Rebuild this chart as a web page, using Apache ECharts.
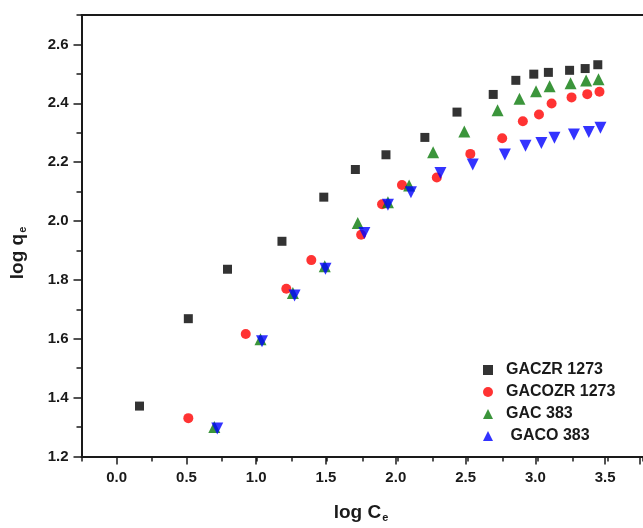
<!DOCTYPE html>
<html>
<head>
<meta charset="utf-8">
<script src="https://cdn.jsdelivr.net/npm/echarts@6/dist/echarts.min.js"></script>
<style>html,body{margin:0;padding:0;background:#fff;}#c{width:643px;height:528px;}</style>
</head>
<body>
<div id="c"></div>
<script>
const seriesNames = ['GACZR 1273', 'GACOZR 1273', 'GAC 383', ' GACO 383'];

const gaczrX = [0.163, 0.511, 0.790, 1.178, 1.476, 1.701, 1.919, 2.196, 2.425, 2.683, 2.844, 2.972, 3.076, 3.227, 3.338, 3.428];
const gaczrY = [1.371, 1.668, 1.836, 1.931, 2.081, 2.175, 2.225, 2.284, 2.370, 2.430, 2.478, 2.499, 2.505, 2.512, 2.518, 2.531];

const gacozrX = [0.511, 0.920, 1.209, 1.387, 1.742, 1.891, 2.033, 2.281, 2.520, 2.747, 2.894, 3.009, 3.099, 3.241, 3.353, 3.440];
const gacozrY = [1.330, 1.616, 1.770, 1.867, 1.953, 2.057, 2.122, 2.148, 2.228, 2.281, 2.339, 2.362, 2.399, 2.420, 2.431, 2.439];

const gacX = [0.696, 1.025, 1.256, 1.483, 1.718, 1.933, 2.084, 2.255, 2.477, 2.714, 2.870, 2.988, 3.085, 3.234, 3.345, 3.433];
const gacY = [1.300, 1.598, 1.755, 1.846, 1.993, 2.064, 2.121, 2.234, 2.304, 2.376, 2.415, 2.441, 2.458, 2.468, 2.477, 2.482];

const gacoX = [0.717, 1.036, 1.268, 1.488, 1.765, 1.933, 2.097, 2.307, 2.537, 2.766, 2.913, 3.026, 3.119, 3.258, 3.364, 3.447];
const gacoY = [1.295, 1.591, 1.747, 1.838, 1.959, 2.055, 2.098, 2.163, 2.192, 2.226, 2.256, 2.265, 2.283, 2.294, 2.302, 2.317];

const xTitle = 'log C';
const yTitle = 'log q';
const subscript = 'e';

const pairs = (xs, ys) => xs.map((x, i) => [x, ys[i]]);
const FONT = '"Liberation Sans", Arial, sans-serif';
const INK = '#1a1a1a';

const chart = echarts.init(document.getElementById('c'), null, {renderer: 'canvas'});
chart.setOption({
  animation: false,
  backgroundColor: '#fff',
  grid: [
    {left: 81.5, top: 15, width: 563.6, height: 441.4},
    {left: 116.7, top: 44.4, width: 528.4, height: 412}
  ],
  xAxis: [
    {type: 'value', gridIndex: 0, min: -0.25, max: 3.75, interval: 0.25,
     axisLine: {show: true, onZero: false, lineStyle: {color: INK, width: 2}},
     axisTick: {show: true, length: 5, lineStyle: {color: INK, width: 1.5}},
     axisLabel: {show: false}, splitLine: {show: false}},
    {type: 'value', gridIndex: 1, min: 0, max: 3.75, interval: 0.5,
     axisLine: {show: false, onZero: false},
     axisTick: {show: true, length: 8, lineStyle: {color: INK, width: 1.5}},
     axisLabel: {show: true, margin: 14, fontFamily: FONT, fontWeight: 'bold', fontSize: 15, color: INK,
       formatter: v => (Math.abs(v * 2 - Math.round(v * 2)) < 1e-6 && v <= 3.5) ? v.toFixed(1) : ''},
     splitLine: {show: false}},
    {type: 'value', gridIndex: 0, position: 'top', min: -0.25, max: 3.75, interval: 0.25,
     axisLine: {show: true, onZero: false, lineStyle: {color: INK, width: 2}},
     axisTick: {show: false}, axisLabel: {show: false}, splitLine: {show: false}}
  ],
  yAxis: [
    {type: 'value', gridIndex: 0, min: 1.2, max: 2.7, interval: 0.1,
     axisLine: {show: true, onZero: false, lineStyle: {color: INK, width: 2}},
     axisTick: {show: true, length: 5, lineStyle: {color: INK, width: 1.5}},
     axisLabel: {show: false}, splitLine: {show: false}},
    {type: 'value', gridIndex: 1, min: 1.2, max: 2.6, interval: 0.2, offset: 35.2,
     axisLine: {show: false, onZero: false},
     axisTick: {show: true, length: 8, lineStyle: {color: INK, width: 1.5}},
     axisLabel: {show: true, margin: 13, fontFamily: FONT, fontWeight: 'bold', fontSize: 15, color: INK,
       formatter: v => v.toFixed(1)},
     splitLine: {show: false}}
  ],
  legend: {
    orient: 'vertical', left: 478, top: 357, itemWidth: 10, itemHeight: 10, itemGap: 6,
    data: seriesNames,
    textStyle: {fontFamily: FONT, fontWeight: 'bold', fontSize: 16, color: INK, padding: [0, 0, 0, 8]}
  },
  graphic: [
    {type: 'text', x: 361, y: 513, style: {text: '{m|' + xTitle + '}{s|' + subscript + '}', align: 'center', verticalAlign: 'middle',
      rich: {m: {fontFamily: FONT, fontWeight: 'bold', fontSize: 19, fill: INK, color: INK},
             s: {fontFamily: FONT, fontWeight: 'bold', fontSize: 11, fill: INK, color: INK, padding: [10, 0, 0, 1]}}}},
    {type: 'text', x: 18, y: 253, rotation: Math.PI / 2, style: {text: '{m|' + yTitle + '}{s|' + subscript + '}', align: 'center', verticalAlign: 'middle',
      rich: {m: {fontFamily: FONT, fontWeight: 'bold', fontSize: 19, fill: INK, color: INK},
             s: {fontFamily: FONT, fontWeight: 'bold', fontSize: 11, fill: INK, color: INK, padding: [10, 0, 0, 1]}}}}
  ],
  series: [
    {name: seriesNames[0], type: 'scatter', xAxisIndex: 0, yAxisIndex: 0, symbol: 'rect', symbolSize: 9,
     itemStyle: {color: '#000000'}, data: pairs(gaczrX, gaczrY)},
    {name: seriesNames[1], type: 'scatter', xAxisIndex: 0, yAxisIndex: 0, symbol: 'circle', symbolSize: 10,
     itemStyle: {color: '#ff0000'}, data: pairs(gacozrX, gacozrY)},
    {name: seriesNames[2], type: 'scatter', xAxisIndex: 0, yAxisIndex: 0, symbol: 'triangle', symbolSize: 12,
     itemStyle: {color: '#0a7a0a'}, data: pairs(gacX, gacY)},
    {name: seriesNames[3], type: 'scatter', xAxisIndex: 0, yAxisIndex: 0, symbol: 'triangle', symbolRotate: 180, symbolSize: 12,
     itemStyle: {color: '#0000ff'}, data: pairs(gacoX, gacoY)}
  ]
});
</script>
</body>
</html>
